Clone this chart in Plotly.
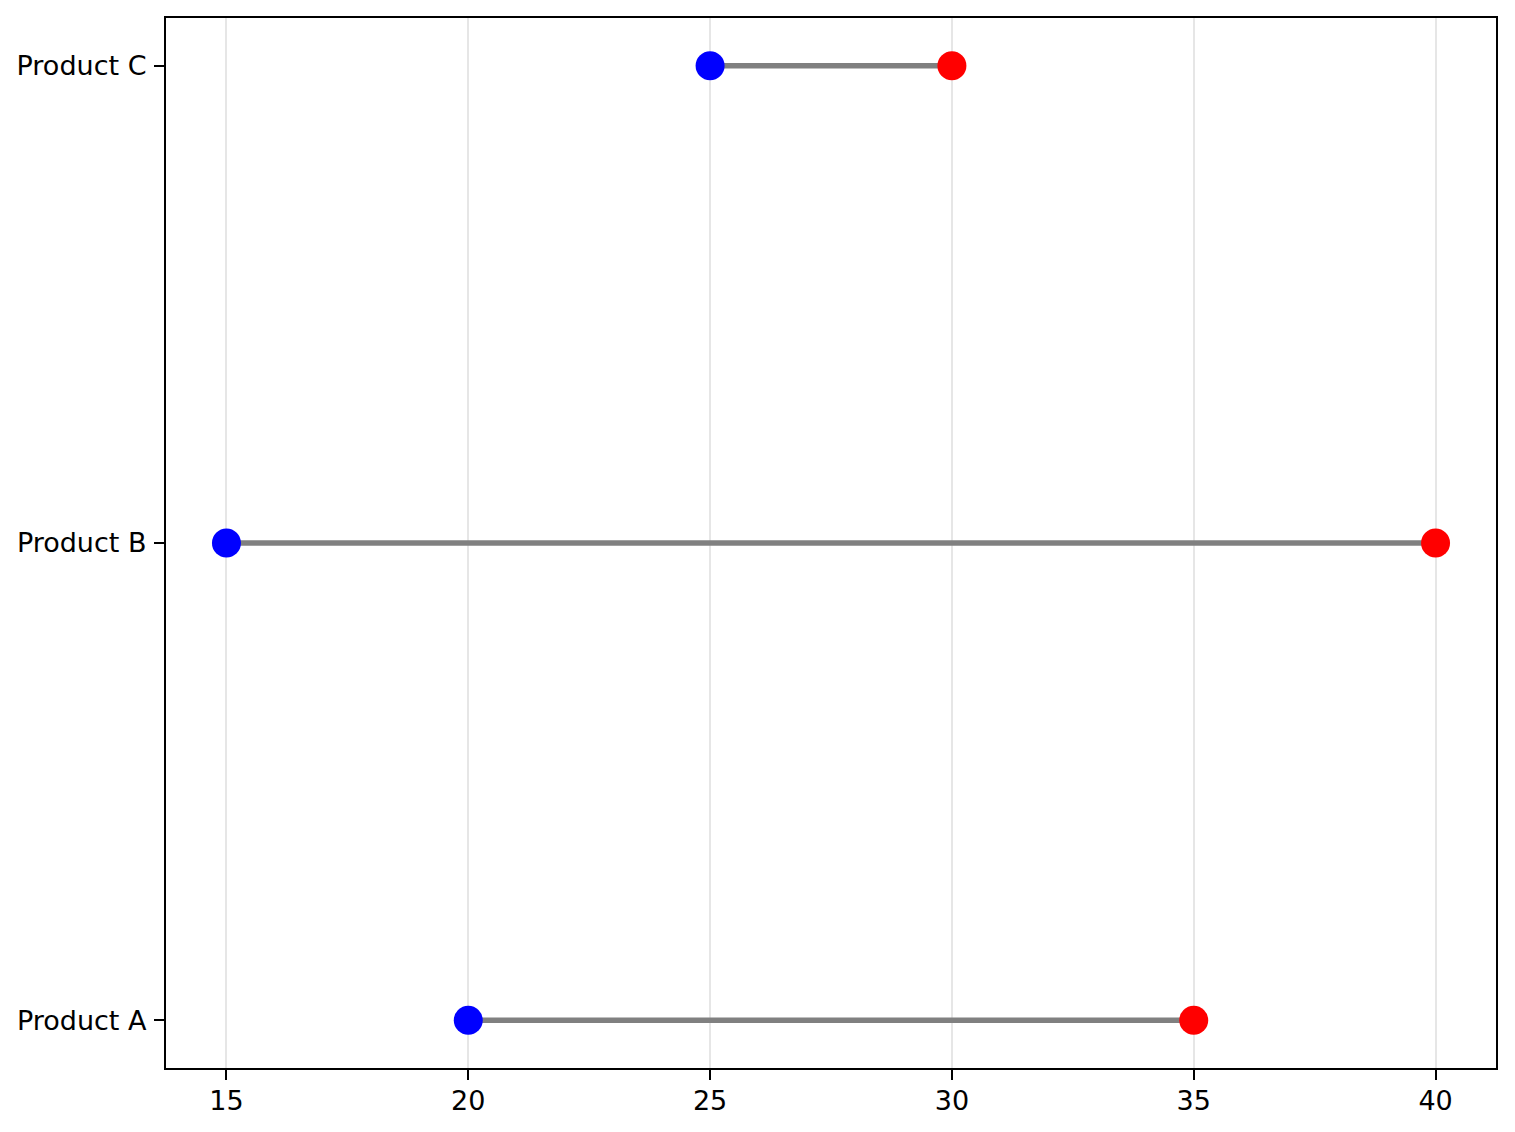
import plotly.graph_objects as go

# dumbbell chart data
products = ['Product A', 'Product B', 'Product C']
start_values = [20, 15, 25]
end_values = [35, 40, 30]
x_ticks = [15, 20, 25, 30, 35, 40]

fig = go.Figure()

# grey connecting lines, one per product
for p, s, e in zip(products, start_values, end_values):
    fig.add_trace(go.Scatter(
        x=[s, e], y=[p, p], mode='lines',
        line=dict(color='#808080', width=5.5),
        showlegend=False, hoverinfo='skip'
    ))

# start points in blue, end points in red
fig.add_trace(go.Scatter(
    x=start_values, y=products, mode='markers',
    marker=dict(color='blue', size=29, line=dict(width=0)),
    name='Start', showlegend=False
))
fig.add_trace(go.Scatter(
    x=end_values, y=products, mode='markers',
    marker=dict(color='red', size=29, line=dict(width=0)),
    name='End', showlegend=False
))

# page has an 8px body margin, so shift the plot area up/left to compensate
fig.update_layout(
    width=1515,
    height=1132,
    margin=dict(l=158, r=27, t=10, b=72, autoexpand=False),
    plot_bgcolor='white',
    paper_bgcolor='white',
    font=dict(family='DejaVu Sans', size=27, color='black'),
)

fig.update_xaxes(
    range=[13.75, 41.25],
    tickvals=x_ticks,
    showgrid=True, gridcolor='#e6e6e6', gridwidth=2,
    zeroline=False,
    showline=True, linecolor='black', linewidth=2.2, mirror=True,
    ticks='outside', ticklen=10, tickwidth=2.2, tickcolor='black',
    ticklabelstandoff=-3,
)
fig.update_yaxes(
    type='category',
    categoryorder='array', categoryarray=products,
    range=[-0.1, 2.1],
    showgrid=False,
    zeroline=False,
    showline=True, linecolor='black', linewidth=2.2, mirror=True,
    ticks='outside', ticklen=10, tickwidth=2.2, tickcolor='black',
    ticklabelstandoff=2,
)

fig.write_html("out.html")
